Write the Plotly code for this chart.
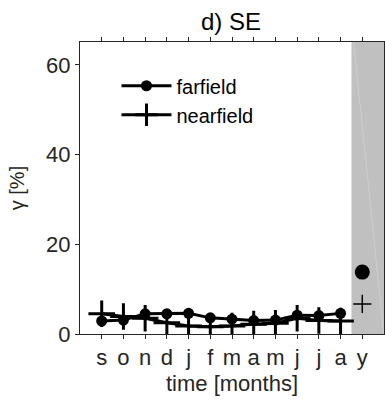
import plotly.graph_objects as go

months = ["s", "o", "n", "d", "j", "f", "m", "a", "m", "j", "j", "a"]
annual_label = "y"
farfield_monthly = [2.9, 3.1, 4.5, 4.5, 4.6, 3.6, 3.3, 3.0, 3.1, 4.2, 4.1, 4.6]
nearfield_monthly = [4.5, 3.9, 3.5, 2.5, 1.8, 1.6, 1.8, 2.2, 2.4, 3.5, 3.0, 2.9]
farfield_annual = [13.8]
nearfield_annual = [6.7]
yticks = [0, 20, 40, 60]

x_month = list(range(1, len(months) + 1))
x_annual = [len(months) + 1]
ticktext = months + [annual_label]
tickvals = x_month + x_annual

INK = "#262626"
FONT = "Liberation Sans, Arial, Helvetica, sans-serif"

fig = go.Figure()

fig.add_trace(go.Scatter(
    x=x_month, y=farfield_monthly, name="farfield", mode="lines+markers",
    line=dict(color="black", width=3),
    marker=dict(symbol="circle", size=11, color="black"),
))
fig.add_trace(go.Scatter(
    x=x_month, y=nearfield_monthly, name="nearfield", mode="lines+markers",
    line=dict(color="black", width=3),
    marker=dict(symbol="cross-thin", size=19, color="black",
                line=dict(color="black", width=3)),
))
fig.add_trace(go.Scatter(
    x=x_annual, y=farfield_annual, mode="markers", showlegend=False,
    marker=dict(symbol="circle", size=15, color="black"),
))
fig.add_trace(go.Scatter(
    x=x_annual, y=nearfield_annual, mode="markers", showlegend=False,
    marker=dict(symbol="cross-thin", size=13, color="black",
                line=dict(color="black", width=1.5)),
))

# shaded annual column
fig.add_shape(type="rect", xref="x", yref="paper",
              x0=len(months) + 0.5, x1=len(months) + 2, y0=0, y1=1,
              fillcolor="#c0c0c0", line=dict(width=0), layer="below")
fig.add_shape(type="line", xref="x", yref="paper",
              x0=len(months) + 0.6, x1=len(months) + 1.99, y0=1, y1=0,
              line=dict(color="rgba(255,255,255,0.22)", width=1), layer="below")

fig.update_layout(
    width=385, height=413,
    margin=dict(l=80, r=1, t=42, b=79, autoexpand=False),
    paper_bgcolor="white", plot_bgcolor="white",
    font=dict(family=FONT, size=22, color=INK),
    title=dict(text="d) SE", x=0.6, xanchor="center", y=0.947, yanchor="middle",
               font=dict(size=24, color="black")),
    showlegend=True,
    legend=dict(x=0.12, y=0.917, xanchor="left", yanchor="top",
                bgcolor="rgba(0,0,0,0)", font=dict(size=20, color="black"),
                itemwidth=50),
)
fig.update_xaxes(
    range=[0, len(months) + 2], tickvals=tickvals, ticktext=ticktext,
    showgrid=False, zeroline=False, showline=True, linecolor=INK, linewidth=1,
    mirror="ticks", ticks="outside", ticklen=4, tickcolor=INK, automargin=False,
    title=dict(text="time [months]", font=dict(size=22), standoff=6),
    tickfont=dict(size=22),
)
fig.update_yaxes(
    range=[0, 65.1], tickvals=yticks,
    showgrid=False, zeroline=False, showline=True, linecolor=INK, linewidth=1,
    mirror="ticks", ticks="outside", ticklen=4, tickcolor=INK, automargin=False,
    title=dict(text="γ [%]", font=dict(size=20), standoff=16),
    tickfont=dict(size=22),
)

fig.write_html("out.html")
